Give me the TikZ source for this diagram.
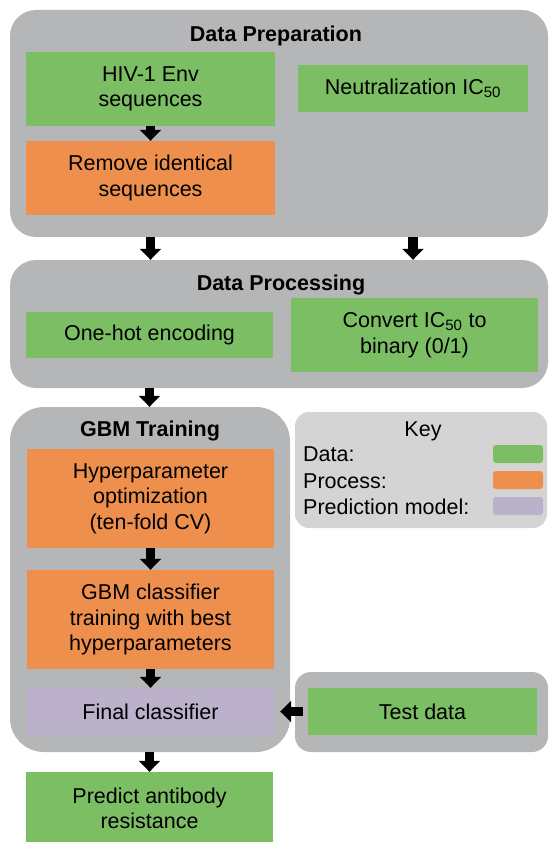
\documentclass[tikz,border=0pt]{standalone}
\usepackage{fontspec}
\setmainfont{Liberation Sans}
\usetikzlibrary{arrows.meta}
\definecolor{cgreen}{RGB}{124,190,100}
\definecolor{corange}{RGB}{239,143,78}
\definecolor{cpurple}{RGB}{187,177,202}
\definecolor{cgray}{RGB}{181,182,184}
\definecolor{ckey}{RGB}{212,212,212}
\tikzset{
  txt/.style={font=\fontsize{21.5}{25.5}\selectfont, align=center, inner sep=0pt},
  ttl/.style={font=\fontsize{21.5}{25.5}\selectfont\bfseries, inner sep=0pt},
  box/.style={txt, minimum width=#1},
  databox/.style={box=#1, fill=cgreen},
  procbox/.style={box=#1, fill=corange},
  modelbox/.style={box=#1, fill=cpurple},
  cont/.style={fill=cgray, rounded corners=26pt, inner sep=0pt},
  swatch/.style={rounded corners=3pt, inner sep=0pt, minimum width=50pt, minimum height=18pt},
  blk/.style={line width=9.5pt, -{Triangle[width=21pt,length=11pt]}},
}
\begin{document}
\begin{tikzpicture}[x=1pt,y=-1pt]
\useasboundingbox (0,0) rectangle (548,842);
% containers
\node[cont, minimum width=538pt, minimum height=227pt] (prep) at (279,123.5) {};
\node[cont, minimum width=538pt, minimum height=128pt] (proc) at (279,324) {};
\node[cont, rounded corners=34pt, minimum width=280pt, minimum height=345pt] (gbm) at (150,579.5) {};
\node[fill=ckey, rounded corners=14pt, inner sep=0pt, minimum width=252pt, minimum height=116pt] (key) at (421,470) {};
\node[cont, rounded corners=16pt, minimum width=253pt, minimum height=80pt] (testc) at (421.5,712) {};
% titles
\node[ttl] (tprep) at (276,36) {Data Preparation};
\node[ttl] (tproc) at (281,285) {Data Processing};
\node[ttl] (tgbm) at (150,431) {GBM Training};
% boxes
\node[databox=249pt, minimum height=74pt] (hiv) at (150.5,89) {HIV-1 Env\\sequences};
\node[procbox=249pt, minimum height=74pt] (rem) at (150.5,178) {Remove identical\\sequences};
\node[databox=230pt, minimum height=47pt] (neut) at (413,88.5) {Neutralization IC\textsubscript{50}};
\node[databox=247pt, minimum height=46pt] (onehot) at (149.5,335) {One-hot encoding};
\node[databox=247pt, minimum height=74pt] (conv) at (414.5,335) {Convert IC\textsubscript{50} to\\binary (0/1)};
\node[procbox=247pt, minimum height=99pt] (hyp) at (150.5,498.5) {Hyperparameter\\optimization\\(ten-fold CV)};
\node[procbox=247pt, minimum height=99pt] (gbmc) at (150.5,619.5) {GBM classifier\\training with best\\hyperparameters};
\node[modelbox=249pt, minimum height=47pt] (final) at (150.5,711.5) {Final classifier};
\node[databox=229pt, minimum height=47pt] (test) at (422.5,711.5) {Test data};
\node[databox=247pt, minimum height=73pt] (pred) at (149.5,808.5) {Predict antibody\\resistance};
% key
\node[txt] (keyt) at (423,431) {Key};
\node[txt, anchor=west] (kd) at (303,454) {Data:};
\node[txt, anchor=west] (kp) at (303,481) {Process:};
\node[txt, anchor=west] (km) at (303,507) {Prediction model:};
\node[swatch, fill=cgreen] (sd) at (518,454) {};
\node[swatch, fill=corange] (sp) at (518,480) {};
\node[swatch, fill=cpurple] (sm) at (518,506) {};
% arrows
\draw[blk] (hiv.south) -- (rem.north);
\draw[blk] (prep.south -| hiv.south) -- (proc.north -| hiv.south);
\draw[blk] (prep.south -| neut.south) -- (proc.north -| neut.south);
\draw[blk] (proc.south -| onehot.south) -- (gbm.north -| onehot.south);
\draw[blk] (hyp.south) -- (gbmc.north);
\draw[blk] (gbmc.south) -- (final.north);
\draw[blk] ([xshift=-5pt]test.west) -- ([xshift=5pt]final.east);
\draw[blk] (gbm.south -| pred.north) -- (pred.north);
\end{tikzpicture}
\end{document}
